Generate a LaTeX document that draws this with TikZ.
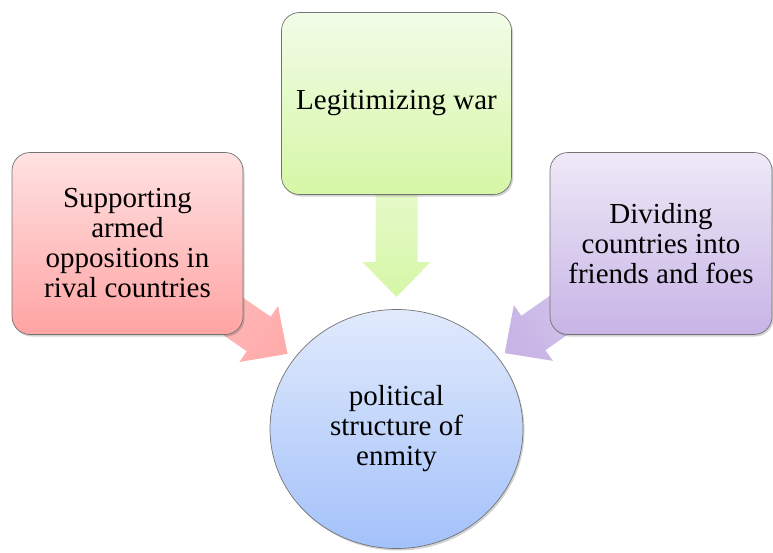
\documentclass[tikz,border=0pt]{standalone}
\usepackage{fontspec}
\setmainfont{Liberation Serif}
\usepackage{xcolor}
\usepackage{tikz}
\usetikzlibrary{positioning}
\usetikzlibrary{calc}
\usetikzlibrary{shadows}
\usetikzlibrary{backgrounds}
\usetikzlibrary{shapes.geometric}

\definecolor{greentop}{HTML}{F2FCE8}
\definecolor{greenbot}{HTML}{D6F7A6}
\definecolor{redtop}{HTML}{FFE2E2}
\definecolor{redbot}{HTML}{FFA3A3}
\definecolor{purpletop}{HTML}{EEE9F7}
\definecolor{purplebot}{HTML}{C8B4E6}
\definecolor{bluetop}{HTML}{E1EAFC}
\definecolor{bluebot}{HTML}{A3C1FA}

% fat arrow from #1 to #2, shaded from #3 to #4
\newcommand{\fatarrow}[4]{%
\path let \p1=($(#2)-(#1)$), \n1={atan2(\y1,\x1)}, \n2={veclen(\x1,\y1)}, \n3={\n1+90} in
  [top color=#3, bottom color=#4, shading angle=\n3, shift={(#1)}, rotate=\n1]
  (0,-21) -- (\n2-35,-21) -- (\n2-35,-34) -- (\n2,0) -- (\n2-35,34) -- (\n2-35,21) -- (0,21) -- cycle;%
}

\begin{document}
\begin{tikzpicture}[
x=1pt, y=-1pt,
basenode/.style={draw=black!55, line width=0.7pt, align=center, text=black,
  font=\fontsize{29}{30}\selectfont,
  drop shadow={shadow xshift=1.5pt, shadow yshift=-2pt, opacity=0.25, fill=black!70}},
greennode/.style={basenode, rectangle, rounded corners=18pt, minimum width=230pt, minimum height=182pt, top color=greentop, bottom color=greenbot},
rednode/.style={basenode, rectangle, rounded corners=18pt, minimum width=231pt, minimum height=182pt, top color=redtop, bottom color=redbot},
purplenode/.style={basenode, rectangle, rounded corners=18pt, minimum width=222pt, minimum height=182pt, top color=purpletop, bottom color=purplebot},
circlenode/.style={basenode, ellipse, inner sep=0pt, minimum width=253pt, minimum height=239pt, top color=bluetop, bottom color=bluebot},
]
\useasboundingbox (0,0) rectangle (773,552);

%Nodes
\node[greennode]	(legit)		at (396.5,103.5)	{Legitimizing war};
\node[rednode]		(armed)		at (127.5,243.5)	{Supporting\\armed\\oppositions in\\rival countries};
\node[purplenode]	(divide)	at (661,243.5)		{Dividing\\countries into\\friends and foes};
\node[circlenode]	(enmity)	at (396.5,429)		{political\\structure of\\enmity};

%Arrows
\coordinate (legitfoot)		at ($(enmity.center)!250pt!(legit.center)$);
\coordinate (legittip)		at ($(enmity.center)!132pt!(legit.center)$);
\coordinate (armedfoot)		at ($(enmity.center)!250pt!(armed.center)$);
\coordinate (armedtip)		at ($(enmity.center)!132pt!(armed.center)$);
\coordinate (dividefoot)	at ($(enmity.center)!250pt!(divide.center)$);
\coordinate (dividetip)		at ($(enmity.center)!132pt!(divide.center)$);

\begin{scope}[on background layer]
\fatarrow{legitfoot}{legittip}{greentop!60!greenbot}{greenbot}
\fatarrow{armedfoot}{armedtip}{redtop!40!redbot}{redbot!85!redtop}
\fatarrow{dividefoot}{dividetip}{purpletop!40!purplebot}{purplebot}
\end{scope}
\end{tikzpicture}
\end{document}
